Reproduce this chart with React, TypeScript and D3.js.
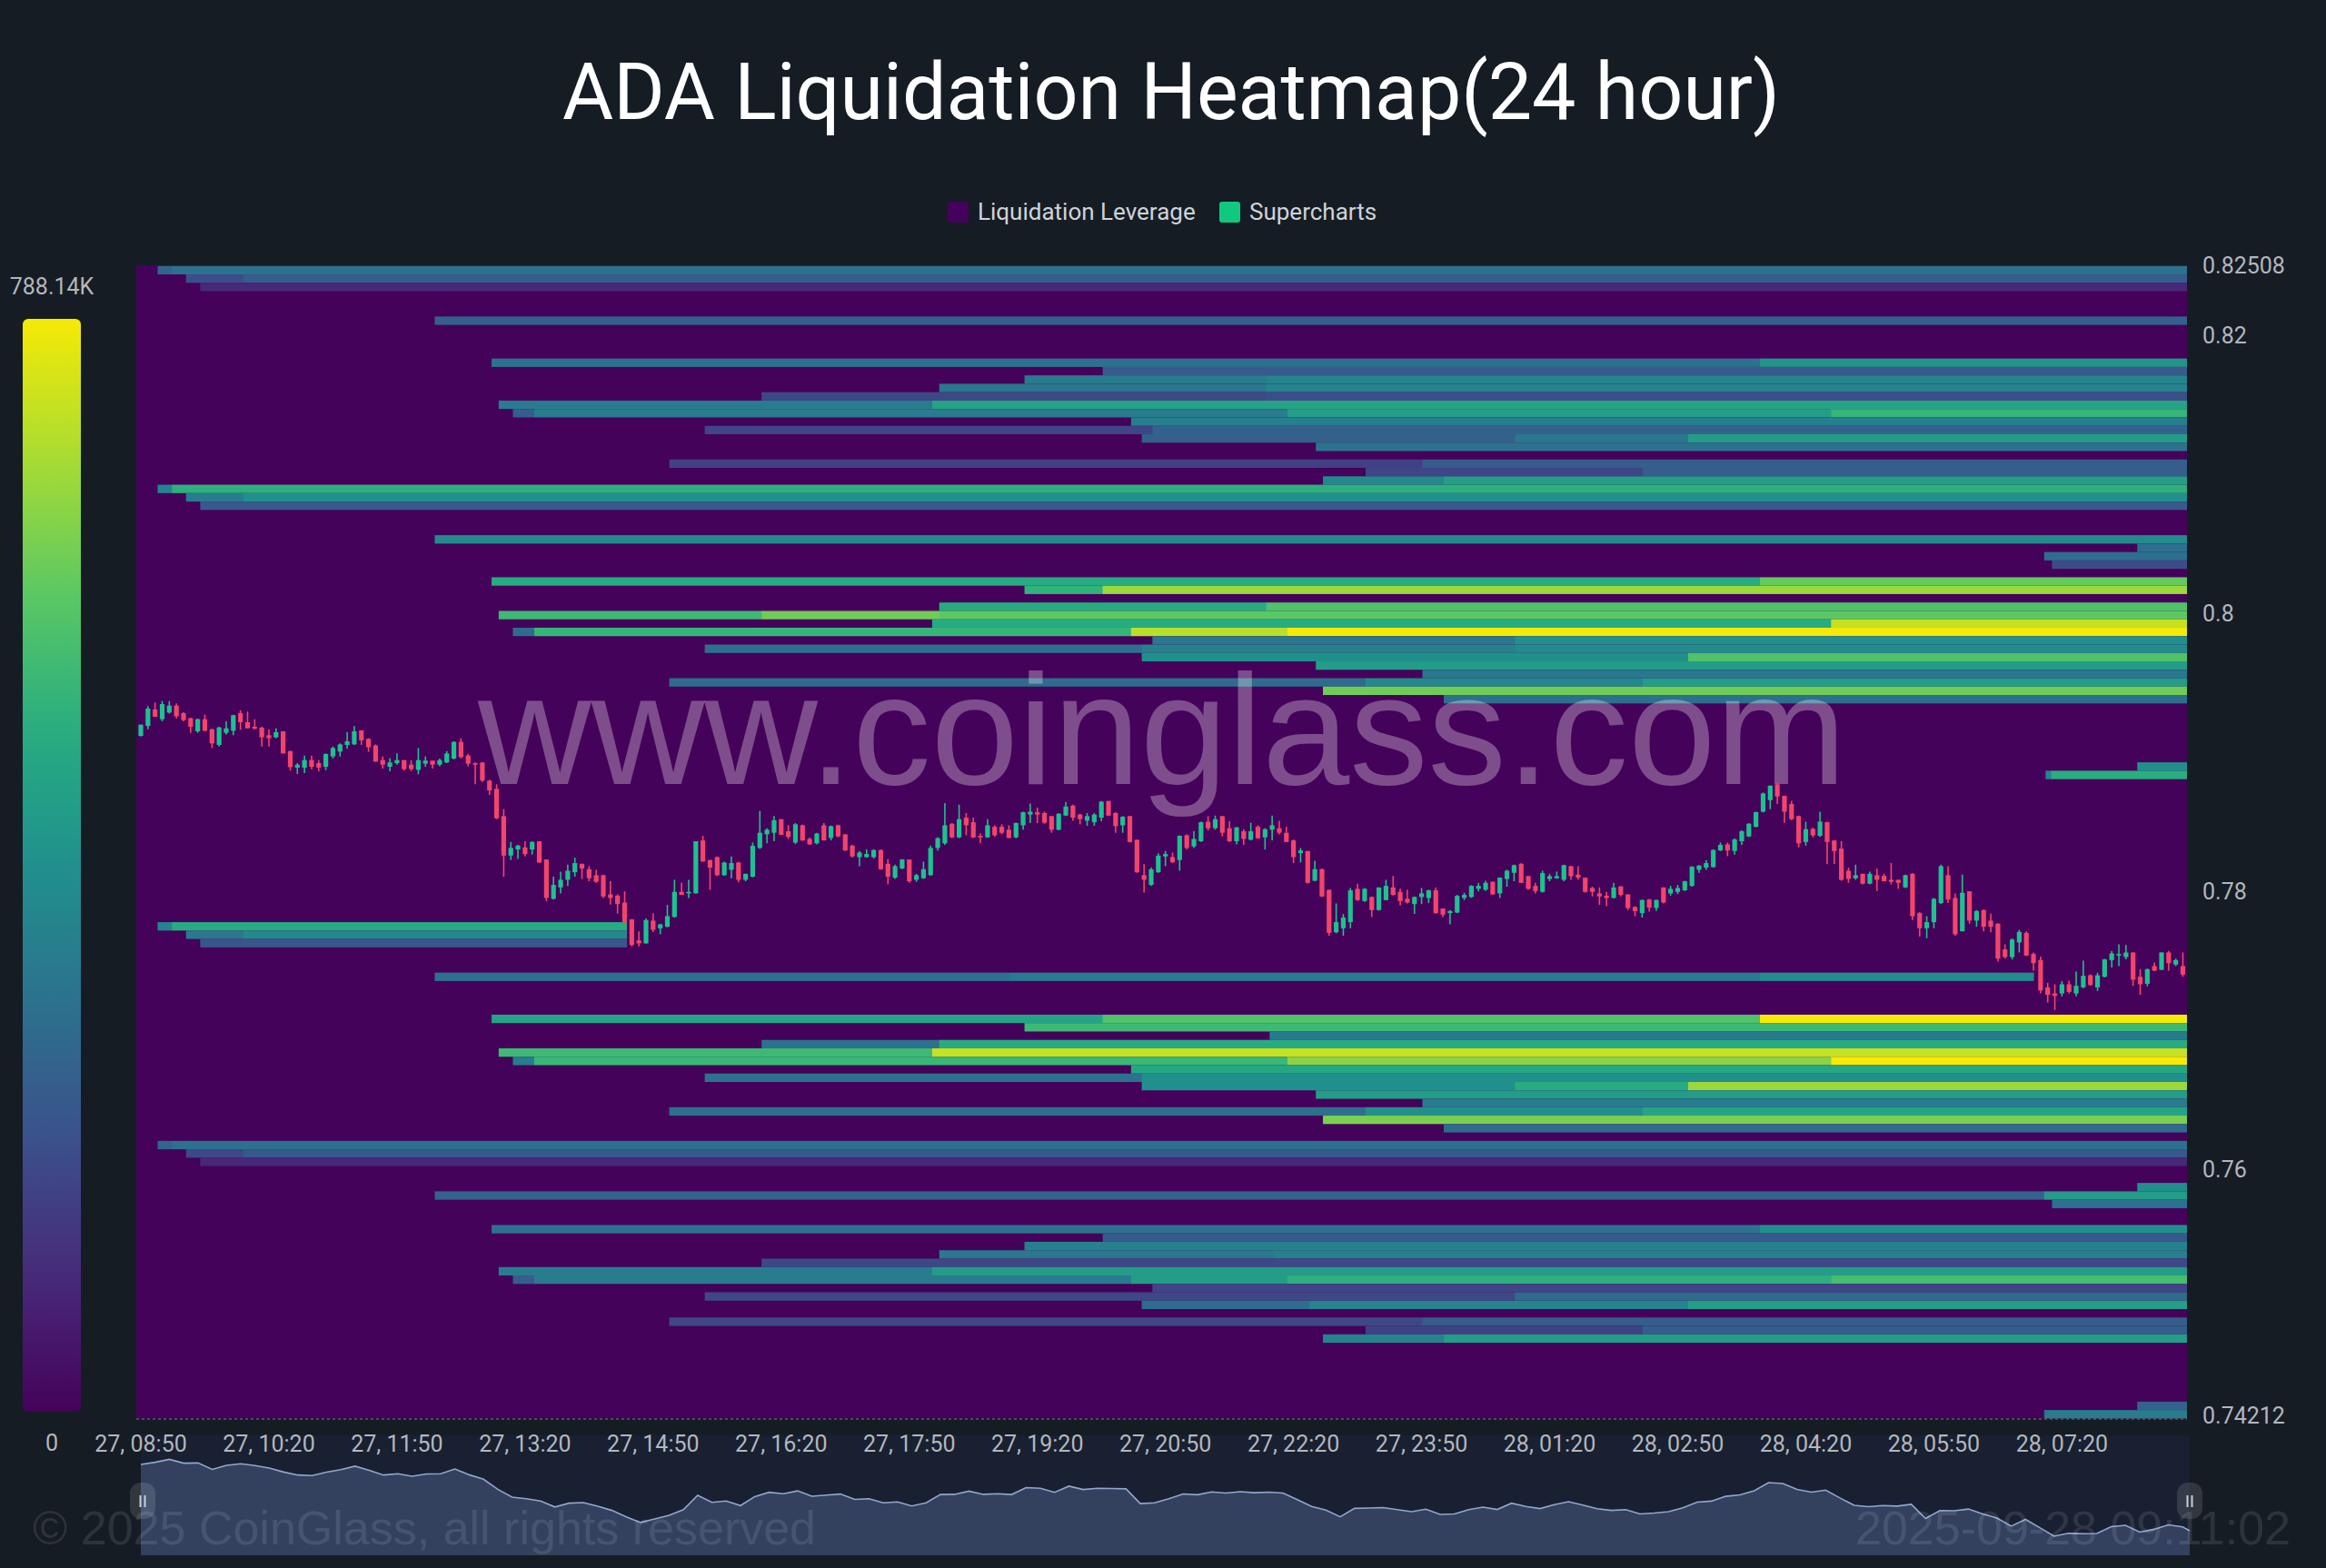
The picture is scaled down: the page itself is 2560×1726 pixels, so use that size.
import React from "react";
import * as d3 from "d3";

// ---------- labels ----------
const titleText = "ADA Liquidation Heatmap(24 hour)";
const legendNames = ["Liquidation Leverage", "Supercharts"];
const maxLabel = "788.14K";
const minLabel = "0";
const priceTicks = [0.82508, 0.82, 0.8, 0.78, 0.76, 0.74212];
const timeLabels = ["27, 08:50","27, 10:20","27, 11:50","27, 13:20","27, 14:50","27, 16:20","27, 17:50","27, 19:20","27, 20:50","27, 22:20","27, 23:50","28, 01:20","28, 02:50","28, 04:20","28, 05:50","28, 07:20"];
const candlesPerLabel = 18;
const watermark = "www.coinglass.com";
const copyrightText = "© 2025 CoinGlass, all rights reserved";
const stampText = "2025-09-28 09:11:02";

// ---------- heat bands: [price level, [[start 5-min slot, share of max], ...], optional end slot] ----------
type Band = [number, [number, number][], number?];
const heatAboveA: Band[] = [
  [0, [[3,.33],[5,.38]]],
  [1, [[7,.24],[15,.3]]],
  [2, [[9,.12]]],
  [6, [[42,.31]]],
  [11, [[50,.38],[228.5,.52]]],
  [12, [[136,.29]]],
  [13, [[125,.42],[159,.45]]],
  [14, [[113,.4],[159,.45]]],
  [15, [[88,.22],[159,.24]]],
  [16, [[51,.42],[112,.58]]],
  [17, [[53,.3],[56,.42],[162,.56],[238.5,.66]]],
  [18, [[140,.43]]],
  [19, [[80,.21],[143,.32]]],
  [20, [[141.5,.31],[194,.4],[218.4,.55]]],
  [21, [[166,.38]]],
  [23, [[75,.2],[181,.3]]],
  [24, [[173,.21],[212,.3]]],
  [25, [[167,.47],[184,.56]]],
  [26, [[3,.45],[5,.64]]],
  [27, [[7,.42],[15,.5]]],
  [28, [[9,.28]]],
  [32, [[42,.48]]],
  [33, [[281.6,.37]]],
  [34, [[268.5,.36]]],
  [35, [[269.6,.23]]],
];
const heatAboveB: Band[] = [
  [37, [[50,.62],[228.5,.76]]],
  [38, [[125,.65],[136,.85]]],
  [40, [[113,.62],[159,.72]]],
  [41, [[51,.68],[88,.78],[113,.75]]],
  [42, [[112,.62],[238.5,.92]]],
  [43, [[53,.35],[56,.66],[140,.9],[162,1]]],
  [44, [[143,.4],[194,.5]]],
  [45, [[80,.37],[141.5,.44],[194,.48]]],
  [46, [[141.5,.5],[218.4,.72]]],
  [47, [[166,.55]]],
  [48, [[181,.4]]],
  [49, [[75,.35],[173,.47],[212,.55]]],
  [50, [[167,.78]]],
  [51, [[184,.37]]],
  [59, [[281.6,.5]]],
  [60, [[268.7,.45],[269.5,.63]]],
];
const heatBelowA: Band[] = [
  [78, [[3,.45],[5,.62]], 69],
  [79, [[7,.4],[15,.47]], 69],
  [80, [[9,.27]], 69],
  [84, [[42,.38],[123,.41],[228.5,.48]], 267],
  [89, [[50,.58],[136,.72],[228.5,1]]],
  [90, [[125,.68]]],
  [91, [[159.5,.41]]],
  [92, [[88,.38],[113,.62]]],
  [93, [[51,.68],[112,.92]]],
  [94, [[53,.42],[56,.67],[162,.82],[238.5,1]]],
  [95, [[140,.6]]],
  [96, [[80,.38],[141.5,.5]]],
  [97, [[141.5,.5],[194,.62],[218.4,.85]]],
  [98, [[166,.55]]],
  [99, [[181,.42]]],
  [100, [[75,.37],[173,.5],[212,.58]]],
  [101, [[167,.8]]],
  [102, [[184,.35]]],
];
const heatBelowB: Band[] = [
  [104, [[3,.33],[5,.38]]],
  [105, [[7,.22],[15,.28]]],
  [106, [[9,.12]]],
  [109, [[281.6,.5]]],
  [110, [[42,.32],[268.5,.55]]],
  [111, [[269.6,.38]]],
  [114, [[50,.38],[228.5,.5]]],
  [115, [[136,.28]]],
  [116, [[125,.44]]],
  [117, [[113,.4],[160,.44]]],
  [118, [[88,.22]]],
  [119, [[51,.42],[112,.55]]],
  [120, [[53,.3],[56,.42],[140,.55],[162,.64],[238.5,.7]]],
  [121, [[143,.21]]],
  [122, [[80,.22],[194,.35]]],
  [123, [[141.5,.36],[165,.45],[218.4,.56]]],
  [125, [[75,.22],[181,.3]]],
  [126, [[173,.2],[212,.3]]],
  [127, [[167,.45],[184,.55]]],
  [135, [[281.6,.32]]],
  [136, [[268.5,.42]]],
];
const heatBands: Band[] = [...heatAboveA, ...heatAboveB, ...heatBelowA, ...heatBelowB];
const levelCount = 137;
const slotCount = 288.6;

// ---------- candles (prices × 100000), 5-minute bars; u = close above open ----------
const candleDirection = [
  "uuduuddDud".toLowerCase(),
  "duuudddddu",
  "dduudduuuu",
  "udddduuddu",
  "uduuuddddd",
  "dduududduu",
  "uudddddddd",
  "duduuuduud",
  "dduuduuuuu",
  "ddudduduDd".toLowerCase(),
  "duuudduudu",
  "uuuududddu",
  "ddduuudddu",
  "udduuuddud",
  "dduuududuu",
  "duddududuu",
  "dddududduu",
  "ududuudddu",
  "uudduuuuuu",
  "duuuddduuu",
  "uddddddudd",
  "dududuuuuu",
  "uuuduuuuuu",
  "ddddududdd",
  "dududdddud",
  "duuuddudud",
  "ddduuddddd",
  "uduuduuuuu",
  "ddududud",
].join("");

const bodyTop = [
79203,79319,79312,79351,79340,79340,79286,79249,79242,79242,
79170,79183,79177,79271,79286,79221,79188,79181,79127,79149,
79155,79013,78915,78948,78948,78926,78992,79035,79061,79083,
79155,79162,79101,79053,78948,78931,78948,78948,78915,78948,
78944,78944,78948,78996,79079,79079,78981,78926,78931,78800,
78741,78545,78316,78333,78320,78359,78364,78233,78050,78087,
78152,78207,78202,78163,78120,78120,77982,77973,77923,77803,
77651,77797,77793,77766,77825,78000,78000,78000,78364,78370,
78229,78250,78211,78207,78211,78130,78331,78425,78447,78516,
78523,78436,78486,78479,78381,78420,78479,78473,78479,78414,
78333,78283,78272,78301,78301,78202,78185,78233,78233,78120,
78163,78316,78386,78479,78490,78523,78534,78501,78403,78479,
78468,78468,78447,78495,78573,78577,78573,78567,78545,78562,
78614,78621,78556,78545,78556,78649,78654,78567,78540,78545,
78375,78120,78163,78261,78272,78250,78403,78407,78381,78501,
78505,78523,78545,78458,78464,78436,78436,78468,78451,78479,
78458,78425,78370,78298,78294,78163,78163,78015,77782,77815,
78011,78022,78022,77963,78032,78043,78032,78000,77950,77963,
77989,78011,78011,77880,77862,77971,77978,78043,78043,78065,
78072,78102,78152,78192,78202,78113,78043,78135,78113,78113,
78192,78185,78124,78102,78028,77989,77973,78032,78039,77982,
77891,77941,77945,77941,78032,78022,78028,78076,78181,78189,
78207,78301,78338,78342,78377,78436,78490,78573,78708,78763,
78774,78691,78632,78545,78451,78453,78505,78501,78370,78311,
78152,78120,78130,78130,78120,78115,78087,78087,78120,78130,
77847,77782,77950,78185,78120,77956,77993,78004,77862,77869,
77793,77771,77586,77657,77712,77705,77553,77509,77313,77269,
77335,77335,77324,77396,77400,77400,77514,77557,77553,77564,
77564,77389,77444,77466,77564,77564,77509,77466,
];
const bodyBottom = [
79122,79194,79260,79242,79290,79264,79236,79188,79155,79159,
79068,79057,79144,79159,79221,79177,79173,79112,79105,79112,
78996,78898,78894,78894,78900,78894,78900,78974,79009,79057,
79061,79090,79040,78937,78915,78900,78926,78883,78883,78878,
78922,78915,78915,78931,78959,78970,78922,78915,78800,78730,
78529,78261,78261,78305,78272,78305,78211,77956,77950,78032,
78087,78141,78168,78098,78072,77967,77956,77912,77782,77618,
77629,77629,77727,77738,77749,77819,77978,77989,77989,78218,
78174,78120,78120,78159,78087,78087,78109,78316,78414,78425,
78410,78396,78355,78370,78342,78349,78370,78388,78399,78298,
78255,78250,78250,78250,78163,78109,78102,78168,78076,78087,
78098,78120,78316,78349,78392,78392,78479,78392,78392,78392,
78407,78425,78388,78392,78479,78556,78556,78497,78447,78447,
78549,78534,78523,78512,78501,78534,78549,78473,78479,78359,
78141,78087,78050,78141,78255,78213,78229,78316,78327,78364,
78458,78458,78425,78364,78364,78381,78375,78386,78392,78447,
78425,78359,78250,78279,78065,78080,77967,77705,77710,77738,
77782,77941,77934,77869,77869,77941,77978,77934,77923,77912,
77963,77956,77847,77836,77847,77851,77956,77963,78022,78015,
77982,77989,78093,78137,78065,78022,78006,78000,78093,78098,
78087,78113,78102,78000,78000,77967,77956,77956,77978,77884,
77862,77847,77886,77884,77923,77989,78000,78011,78043,78159,
78174,78178,78298,78298,78294,78364,78399,78468,78577,78660,
78686,78577,78523,78349,78359,78407,78403,78359,78294,78087,
78093,78098,78059,78059,78087,78076,78072,78065,78032,77825,
77738,77738,77782,77919,77945,77695,77716,77793,77793,77749,
77749,77520,77531,77531,77636,77542,77487,77291,77259,77252,
77269,77280,77269,77313,77330,77313,77389,77509,77542,77531,
77368,77335,77339,77433,77439,77487,77477,77405,
];
const highs = [
79203,79336,79362,79373,79373,79356,79292,79253,79247,79275,
79173,79188,79227,79275,79306,79297,79242,79188,79170,79177,
79155,79013,78926,78981,78981,78948,78996,79046,79068,79149,
79192,79162,79105,79061,78974,78963,78996,78948,78948,79035,
78974,78944,78959,79013,79083,79105,78992,78931,78931,78806,
78774,78595,78359,78338,78364,78364,78364,78233,78109,78146,
78196,78246,78202,78185,78159,78124,78076,77982,78004,77803,
77716,77808,77847,77771,77906,78087,78065,78087,78364,78403,
78229,78255,78218,78255,78216,78130,78355,78582,78458,78545,
78523,78479,78495,78484,78392,78425,78495,78477,78484,78414,
78338,78294,78305,78307,78305,78235,78196,78235,78233,78130,
78218,78333,78394,78638,78495,78628,78567,78534,78420,78523,
78479,78486,78479,78499,78577,78636,78606,78577,78545,78567,
78647,78628,78562,78567,78567,78654,78654,78573,78545,78545,
78375,78200,78174,78277,78294,78283,78407,78414,78436,78505,
78545,78549,78545,78508,78468,78451,78497,78479,78458,78549,
78512,78468,78377,78316,78294,78224,78168,78015,77917,77841,
78028,78059,78028,77967,78032,78087,78115,78022,78015,77967,
78028,78015,78032,77880,77869,77978,77993,78048,78065,78080,
78076,78104,78159,78196,78207,78115,78065,78152,78130,78146,
78196,78185,78185,78102,78037,78032,78000,78065,78043,77982,
77897,77945,77950,77945,78032,78043,78050,78080,78185,78192,
78229,78305,78355,78355,78386,78442,78495,78577,78715,78767,
78785,78691,78654,78549,78505,78462,78577,78505,78370,78364,
78174,78196,78130,78146,78168,78130,78207,78087,78124,78135,
77854,77825,77956,78196,78185,77989,78124,78004,77869,77873,
77843,77775,77623,77666,77727,77716,77564,77535,77346,77335,
77357,77361,77426,77505,77407,77418,77518,77575,77623,77618,
77564,77444,77448,77492,77566,77575,77520,77564,
];
const lows = [
79118,79170,79258,79227,79282,79249,79227,79144,79144,79155,
79035,79046,79133,79127,79166,79175,79170,79046,79046,79105,
78996,78872,78848,78854,78883,78867,78876,78959,78974,79031,
79057,79057,79007,78937,78887,78867,78915,78872,78870,78846,
78900,78887,78904,78926,78952,78959,78904,78774,78791,78697,
78523,78109,78229,78237,78255,78268,78207,77934,77945,77989,
78043,78109,78093,78076,78065,77956,77908,77843,77777,77607,
77607,77629,77710,77695,77745,77815,77978,77956,77989,78218,
78015,78113,78115,78098,78069,78076,78104,78309,78349,78364,
78410,78381,78344,78366,78338,78342,78370,78370,78392,78294,
78246,78185,78246,78240,78159,78054,78093,78163,78065,78072,
78093,78115,78298,78338,78386,78386,78407,78386,78349,78388,
78396,78414,78386,78386,78447,78495,78495,78490,78425,78442,
78545,78512,78486,78475,78475,78508,78545,78425,78425,78355,
78137,77995,78043,78137,78185,78207,78152,78305,78316,78359,
78442,78447,78399,78359,78342,78338,78370,78381,78305,78370,
78414,78359,78207,78211,78059,78076,77963,77684,77701,77684,
77738,77934,77928,77819,77865,77939,77973,77902,77917,77841,
77912,77919,77843,77819,77766,77847,77941,77956,78004,78006,
77978,77956,78037,78076,78065,78015,77989,77995,78076,78093,
78076,78087,78087,77995,77967,77906,77897,77952,77967,77869,
77825,77815,77858,77862,77917,77973,77984,78006,78037,78137,
78159,78174,78294,78257,78268,78338,78394,78464,78571,78595,
78632,78497,78516,78320,78333,78392,78396,78200,78200,78080,
78065,78087,78054,78054,78006,78076,78054,78022,78028,77797,
77679,77666,77738,77912,77919,77684,77716,77771,77749,77716,
77710,77498,77520,77514,77564,77538,77433,77269,77204,77150,
77248,77269,77248,77307,77324,77287,77385,77455,77466,77514,
77324,77259,77320,77429,77437,77433,77466,77389,
];

// ---------- scales and colours ----------
const heatColours = ["#45025a","#472a7a","#3b518b","#2c718e","#21908d","#27ad81","#5cc863","#aadc32","#f5ea05"];
const heatColor = d3.piecewise(d3.interpolateRgb, heatColours);

const W = 2560;
const H = 1726;
const plot = { left: 150, right: 2407, top: 292, bottom: 1561.5 };
const bar = { left: 25, right: 89, top: 351, bottom: 1554 };
const zoomBox = { left: 155, right: 2410, top: 1580, bottom: 1712 };

const slotX = d3.scaleLinear().domain([0, slotCount]).range([plot.left, plot.right]);
const levelY = d3.scaleLinear().domain([0, levelCount]).range([292.8, 1561.4]);
const priceY = d3.scaleLinear().domain([0.82508, 0.74212]).range([292, 1561.3]);
const candleX = d3.scaleLinear().domain([0, 287]).range([155, 2402.5]);

const candles = bodyTop.map((top, i) => {
  const up = candleDirection[i] === "u";
  return {
    i,
    up,
    open: (up ? bodyBottom[i] : top) / 1e5,
    close: (up ? top : bodyBottom[i]) / 1e5,
    high: highs[i] / 1e5,
    low: lows[i] / 1e5,
  };
});

const zoomX = d3.scaleLinear().domain([0, 287]).range([zoomBox.left, zoomBox.right]);
const zoomY = d3.scaleLinear().domain([0.7674, 0.7935]).range([zoomBox.bottom, 1606]);
const zoomSeries = candles.filter((c) => c.i % 2 === 0 || c.i === 287);
const zoomArea = d3.area<(typeof candles)[number]>().x((c) => zoomX(c.i)).y0(zoomBox.bottom).y1((c) => zoomY(c.close))(zoomSeries) as string;
const zoomLine = d3.line<(typeof candles)[number]>().x((c) => zoomX(c.i)).y((c) => zoomY(c.close))(zoomSeries) as string;

const UI = "Roboto, sans-serif";
const MARK = "'Liberation Sans', Arial, sans-serif";
const labelFill = "#b3b7bd";
const upColor = "#1cc291";
const downColor = "#f2456c";

function Handle({ cx }: { cx: number }) {
  return (
    <g>
      <rect x={cx - 14} y={1632} width={28} height={40} rx={12} fill="#ffffff" fillOpacity={0.12} />
      <rect x={cx - 3.5} y={1646} width={2} height={13} fill="#c9ced6" />
      <rect x={cx + 1.5} y={1646} width={2} height={13} fill="#c9ced6" />
    </g>
  );
}

export default function App() {
  const gradStops = d3.range(0, 1.0001, 0.05);
  return (
    <svg width={W} height={H} viewBox={`0 0 ${W} ${H}`} style={{ position: "fixed", left: 0, top: 0, display: "block" }}>
      <defs>
        <linearGradient id="heatBar" x1="0" y1="1" x2="0" y2="0">
          {gradStops.map((s) => (
            <stop key={s} offset={s} stopColor={heatColor(s)} />
          ))}
        </linearGradient>
      </defs>
      <rect x={0} y={0} width={W} height={H} fill="#161c24" />

      <text x={1289} y={131} textAnchor="middle" fontFamily={UI} fontSize={88} fill="#ffffff" textLength={1340} lengthAdjust="spacingAndGlyphs">{titleText}</text>

      <g fontFamily={UI} fontSize={26} fill="#cfd3d8">
        <rect x={1043} y={222} width={23} height={23} rx={3} fill={heatColours[0]} />
        <text x={1076} y={242}>{legendNames[0]}</text>
        <rect x={1342} y={222} width={23} height={23} rx={3} fill="#10c97f" />
        <text x={1375} y={242}>{legendNames[1]}</text>
      </g>

      {/* colour bar */}
      <rect x={bar.left} y={bar.top} width={bar.right - bar.left} height={bar.bottom - bar.top} rx={6} fill="url(#heatBar)" />
      <text x={57} y={324} textAnchor="middle" fontFamily={UI} fontSize={25} fill={labelFill}>{maxLabel}</text>
      <text x={57} y={1597} textAnchor="middle" fontFamily={UI} fontSize={25} fill={labelFill}>{minLabel}</text>

      {/* heat map */}
      <rect x={plot.left} y={plot.top} width={plot.right - plot.left} height={plot.bottom - plot.top} fill={heatColor(0)} />
      {heatBands.map(([level, segs, end]) =>
        segs.map(([start, share], k) => {
          const stop = k + 1 < segs.length ? segs[k + 1][0] : end ?? slotCount;
          return (
            <rect
              key={`${level}-${k}`}
              x={slotX(start)}
              y={levelY(level)}
              width={Math.min(slotX(stop) - slotX(start) + 0.5, plot.right - slotX(start))}
              height={levelY(level + 1) - levelY(level)}
              fill={heatColor(share)}
            />
          );
        })
      )}
      <line x1={plot.left} x2={plot.right} y1={1562} y2={1562} stroke="#59606a" strokeWidth={1.5} strokeDasharray="3 3" />

      <text x={526} y={863} fontFamily={MARK} fontSize={172.6} fill="#ffffff" fillOpacity={0.3}>{watermark}</text>

      {/* candles */}
      {candles.map((c) => {
        const color = c.up ? upColor : downColor;
        const cx = candleX(c.i);
        const top = priceY(Math.max(c.open, c.close));
        const bottom = priceY(Math.min(c.open, c.close));
        return (
          <g key={c.i}>
            <line x1={cx} x2={cx} y1={priceY(c.high)} y2={priceY(c.low)} stroke={color} strokeWidth={1.6} />
            <rect x={cx - 2.6} y={top} width={5.2} height={Math.max(bottom - top, 1.5)} fill={color} />
          </g>
        );
      })}

      {/* price axis */}
      <g fontFamily={UI} fontSize={25} fill={labelFill}>
        {priceTicks.map((p, i) => (
          <text key={p} x={2424} y={priceY(p) + (i === 5 ? 6 : 8.5)}>{String(p)}</text>
        ))}
      </g>

      {/* overview */}
      <rect x={zoomBox.left} y={zoomBox.top} width={zoomBox.right - zoomBox.left} height={zoomBox.bottom - zoomBox.top} fill="#182031" />
      <path d={zoomArea} fill="#33415f" />
      <path d={zoomLine} fill="none" stroke="#93a6cb" strokeWidth={1.6} />
      <Handle cx={157} />
      <Handle cx={2410} />

      {/* time axis */}
      <g fontFamily={UI} fontSize={25} fill={labelFill} textAnchor="middle">
        {timeLabels.map((t, i) => (
          <text key={t} x={candleX(i * candlesPerLabel)} y={1598}>{t}</text>
        ))}
      </g>

      <g fontFamily={MARK} fontSize={52} fill="#ffffff" fillOpacity={0.1}>
        <text x={36} y={1700}>{copyrightText}</text>
        <text x={2521} y={1700} textAnchor="end">{stampText}</text>
      </g>
    </svg>
  );
}
